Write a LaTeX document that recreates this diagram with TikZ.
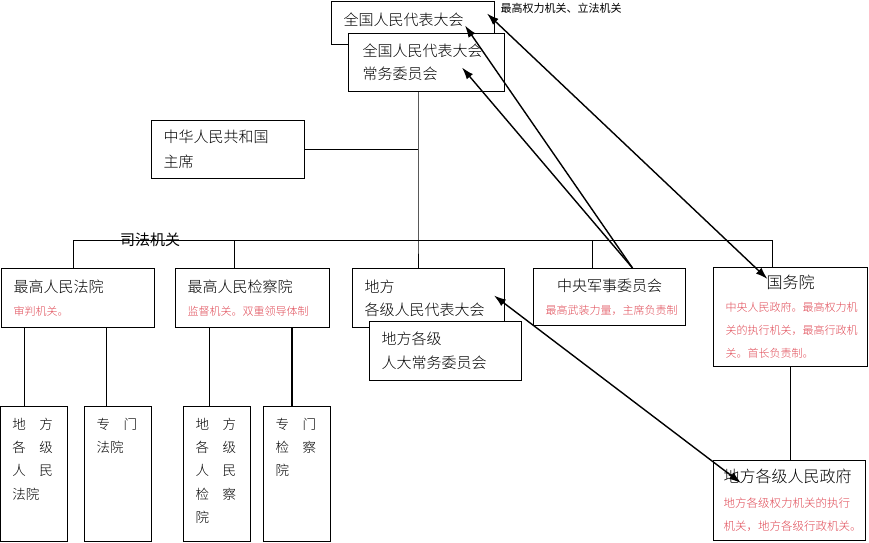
\documentclass[tikz,border=0pt]{standalone}
\usepackage{fontspec}
\setmainfont{Noto Sans CJK SC}[UprightFont={* Light}, BoldFont={* Medium}]
\newfontfamily\heiti{Noto Sans CJK SC}
\usepackage{tikz}
\usetikzlibrary{arrows.meta, positioning, calc}
\usepackage{xcolor}
\definecolor{notered}{RGB}{224,72,84}
\newcommand{\redtxt}[1]{{\color{notered}\fontsize{11}{23}\selectfont #1}}
\newcommand{\lowtxt}[1]{\parbox[t][112pt][t]{43pt}{\fontsize{13.5}{23.3}\selectfont #1}}

\begin{document}
\begin{tikzpicture}[x=1pt, y=-1pt,
    box/.style = {draw=black, fill=white, line width=1pt, anchor=north west, inner xsep=12pt, inner ysep=0pt, align=left, font=\fontsize{15}{23}\selectfont},
    link/.style = {draw=black, line width=1pt},
    rel/.style = {draw=black, line width=1.4pt, -{Latex[length=12pt,width=8pt]}},
    both/.style = {rel, {Latex[length=12pt,width=8pt]}-{Latex[length=12pt,width=8pt]}},
    tag/.style = {font=\heiti\fontsize{11}{13}\selectfont, anchor=west}
]
\useasboundingbox (0,0) rectangle (869,542);

% Central organs
\node (npc) [box, minimum width=163pt, minimum height=43pt, text width=139pt] at (331,1) {\raisebox{7pt}{全国人民代表大会}};
\node (stand) [box, minimum width=154pt, minimum height=58pt, text width=128pt, inner xsep=14pt] at (348,33) {全国人民代表大会\\常务委员会};
\node (chair) [box, minimum width=153pt, minimum height=58pt, text width=129pt] at (151,120) {中华人民共和国\\[2pt]主席};
\node (npclabel) [tag] at (497,8) {最高权力机关、立法机关};

% Second row
\node (court) [box, minimum width=153pt, minimum height=59pt, text width=129pt] at (1,268) {最高人民法院\\\redtxt{审判机关。}};
\node (proc) [box, minimum width=154pt, minimum height=59pt, text width=130pt] at (175,268) {最高人民检察院\\\redtxt{监督机关。双重领导体制}};
\node (lcong) [box, minimum width=152pt, minimum height=59pt, text width=128pt] at (352,268) {地方\\各级人民代表大会};
\node (lstand) [box, minimum width=152pt, minimum height=59pt, text width=128pt] at (369,321) {地方各级\\[1pt]人大常务委员会};
\node (cmc) [box, minimum width=152pt, minimum height=57pt, text width=128pt, align=center] at (533,268) {中央军事委员会\\\redtxt{最高武装力量，主席负责制}};
\node (council) [box, minimum width=154pt, minimum height=99pt, text width=130pt] at (713,267) {\makebox[130pt]{\fontsize{16}{23}\selectfont 国务院}\\\redtxt{中央人民政府。最高权力机}\\\redtxt{关的执行机关，最高行政机}\\\redtxt{关。首长负责制。}};
\node (lgov) [box, minimum width=152pt, minimum height=80pt, text width=132pt, inner xsep=10pt] at (713,460) {{\fontsize{16}{23}\selectfont 地方各级人民政府}\\[2pt]{\color{notered}\fontsize{11.5}{23}\selectfont 地方各级权力机关的执行}\\{\color{notered}\fontsize{11.5}{23}\selectfont 机关，地方各级行政机关。}};

% Lower courts and procuratorates
\node (lcourt) [box, minimum width=67pt, minimum height=135pt] at (0,406) {\lowtxt{地　方\\各　级\\人　民\\法院}};
\node (scourt) [box, minimum width=67pt, minimum height=135pt] at (84,406) {\lowtxt{专　门\\法院}};
\node (lproc) [box, minimum width=67pt, minimum height=135pt] at (183,406) {\lowtxt{地　方\\各　级\\人　民\\检　察\\院}};
\node (sproc) [box, minimum width=67pt, minimum height=135pt] at (263,406) {\lowtxt{专　门\\检　察\\院}};

% Tree lines
\coordinate (hub) at (418,240);
\coordinate (j1) at (73,240);
\coordinate (j2) at (234,240);
\coordinate (j4) at (592,240);
\coordinate (j5) at (772,240);
\coordinate (d1) at (24,0);
\coordinate (d2) at (106,0);
\coordinate (d3) at (209,0);
\coordinate (d4) at (292,0);
\draw [link] (stand.south -| hub) -- (hub) -- (hub |- lcong.north);
\draw [link] (chair.east) -- (chair.east -| hub);
\draw [link] (j1) -- (j5);
\draw [link] (j1) -- (j1 |- court.north);
\draw [link] (j2) -- (j2 |- proc.north);
\draw [link] (j4) -- (j4 |- cmc.north);
\draw [link] (j5) -- (j5 |- council.north);
\draw [link] (council.south) -- (council.south |- lgov.north);
\draw [link] (d1 |- court.south) -- (d1 |- lcourt.north);
\draw [link] (d2 |- court.south) -- (d2 |- scourt.north);
\draw [link] (d3 |- proc.south) -- (d3 |- lproc.north);
\draw [link, line width=2pt] (d4 |- proc.south) -- (d4 |- sproc.north);
\node (judlabel) [font=\heiti\fontsize{15}{15}\selectfont] at (150,240) {司法机关};

% Relations
\draw [both] ([shift={(-8,-9.5)}]npc.east) -- ([shift={(-23,12)}]council.north);
\draw [rel] ([xshift=23pt]cmc.north) -- ([shift={(-30,2.5)}]npc.east);
\draw [rel] ([xshift=23pt]cmc.north) -- ([shift={(-43,5)}]stand.east);
\draw [both] ([shift={(-11,-2.5)}]lcong.east) -- ([shift={(28,23)}]lgov.north west);

\end{tikzpicture}
\end{document}
